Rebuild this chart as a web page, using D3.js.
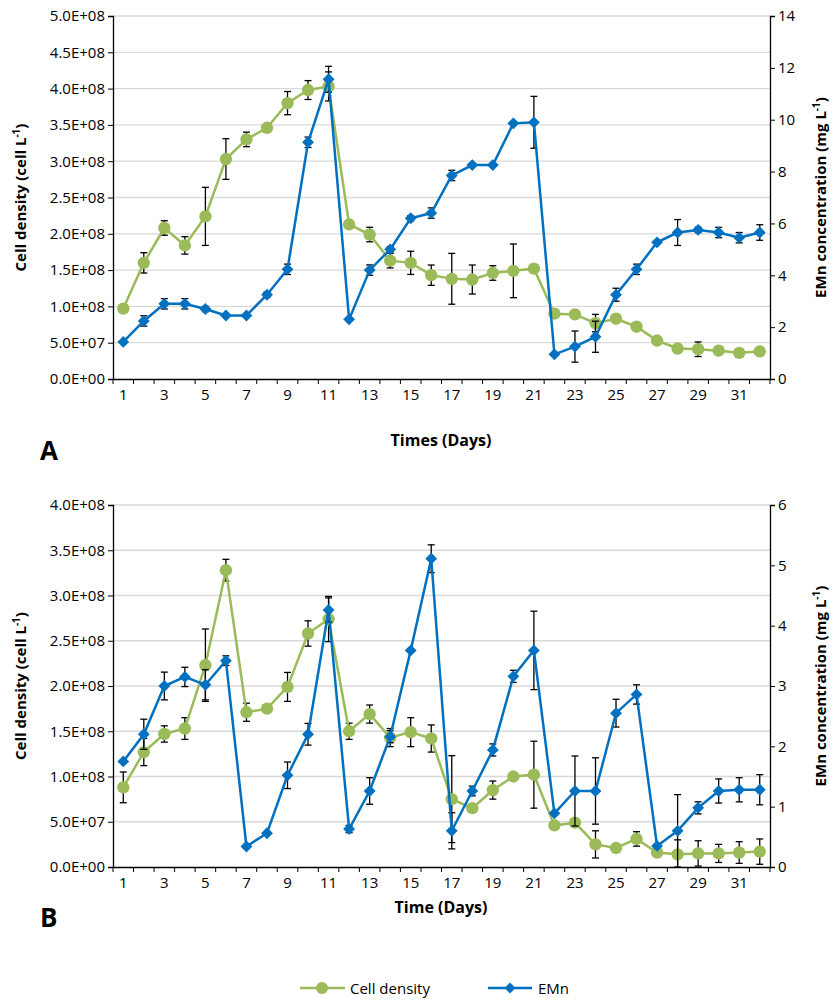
<!DOCTYPE html>
<html lang="en">
<head>
<meta charset="UTF-8">
<script src="https://d3js.org/d3.v7.min.js"></script>
<style>
  body { margin: 0; background: #fff; }
  text { font-family: "Open Sans", "DejaVu Sans", sans-serif; }
</style>
</head>
<body>
<div id="chart"></div>
<script>
// days 1..32
const days = d3.range(1, 33);
const oddTicks = days.filter(d => d % 2 === 1);

// Panel A
const cellA = [0.97,1.6,2.08,1.84,2.24,3.03,3.3,3.46,3.8,3.98,4.03,2.13,1.99,1.63,1.6,1.43,1.38,1.37,1.46,1.49,1.52,0.9,0.89,0.77,0.83,0.72,0.53,0.42,0.41,0.39,0.36,0.38];
const cellAErr = [0,0.14,0.1,0.12,0.4,0.28,0.1,0,0.16,0.13,0.2,0.05,0.1,0.1,0.16,0.14,0.35,0.2,0.1,0.37,0,0,0,0.12,0,0.05,0,0,0.1,0.04,0.05,0.05];
const emnA = [1.43,2.24,2.9,2.9,2.7,2.45,2.45,3.25,4.23,9.13,11.56,2.3,4.2,5.0,6.2,6.4,7.85,8.25,8.25,9.86,9.9,0.95,1.25,1.63,3.25,4.23,5.27,5.65,5.75,5.65,5.45,5.65];
const emnAErr = [0,0.2,0.2,0.2,0.1,0,0,0.1,0.2,0.2,0.5,0,0.2,0.1,0.1,0.2,0.2,0,0,0,1.0,0,0.6,0.6,0.25,0.2,0,0.5,0.1,0.2,0.2,0.3];
const leftTicksA = [0,0.5,1,1.5,2,2.5,3,3.5,4,4.5,5];
const rightTicksA = [0,2,4,6,8,10,12,14];

// Panel B
const cellB = [0.88,1.27,1.47,1.53,2.23,3.28,1.71,1.75,1.99,2.58,2.74,1.5,1.69,1.43,1.49,1.42,0.75,0.65,0.85,1.0,1.02,0.46,0.49,0.25,0.21,0.31,0.16,0.14,0.15,0.15,0.16,0.17];
const cellBErr = [0.17,0.15,0.09,0.12,0.4,0.12,0.1,0,0.16,0.14,0.25,0.09,0.1,0.1,0.16,0.15,0.48,0,0.1,0,0.37,0,0,0.15,0,0.08,0,0.16,0.14,0.1,0.12,0.14];
const emnB = [1.75,2.2,3.0,3.15,3.02,3.42,0.34,0.56,1.52,2.2,4.26,0.63,1.26,2.16,3.59,5.11,0.6,1.26,1.94,3.16,3.59,0.89,1.26,1.26,2.55,2.86,0.35,0.6,0.98,1.26,1.28,1.28];
const emnBErr = [0,0.25,0.23,0.16,0.25,0.08,0,0,0.22,0.18,0.2,0.06,0.22,0.1,0,0.23,0.3,0.08,0.1,0.1,0.65,0,0.58,0.55,0.23,0.16,0,0.6,0.1,0.2,0.2,0.25];
const leftTicksB = [0,0.5,1,1.5,2,2.5,3,3.5,4];
const rightTicksB = [0,1,2,3,4,5,6];

const green = "#9bbb59", blue = "#0070c0";
const fmt = v => v === 0 ? "0.0E+00" : (v < 1 ? (v*10).toFixed(1) + "E+07" : v.toFixed(1) + "E+08");

const svg = d3.select("#chart").append("svg").attr("width", 837).attr("height", 1000);

function panel(o) {
  const x = d3.scaleBand().domain(days).range([113, 770]);
  const yL = d3.scaleLinear().domain([0, o.leftMax]).range([o.bottom, o.top]);
  const yR = d3.scaleLinear().domain([0, o.rightMax]).range([o.bottom, o.top]);
  const g = svg.append("g");
  const cx = d => x(d) + x.bandwidth() / 2;

  g.selectAll(".grid").data(o.leftTicks.slice(1)).join("line")
    .attr("x1", 113).attr("x2", 770).attr("y1", yL).attr("y2", yL)
    .attr("stroke", "#d9d9d9").attr("stroke-width", 1.3);

  const ax = g.append("g").attr("transform", `translate(113,0)`)
    .call(d3.axisLeft(yL).tickValues(o.leftTicks).tickFormat(fmt).tickSize(5));
  const axR = g.append("g").attr("transform", `translate(770,0)`)
    .call(d3.axisRight(yR).tickValues(o.rightTicks).tickFormat(d3.format("d")).tickSize(5));
  const axB = g.append("g").attr("transform", `translate(0,${o.bottom})`)
    .call(d3.axisBottom(x).tickValues(oddTicks).tickSize(0).tickPadding(10));
  [ax, axR, axB].forEach(a => {
    a.select(".domain").attr("stroke", "#000").attr("stroke-width", 1.3);
    a.selectAll("text").attr("font-size", 15).attr("fill", "#000")
      .style("font-family", "'Open Sans', sans-serif");
  });
  // category boundary ticks
  g.selectAll(".xt").data(d3.range(0, 33)).join("line")
    .attr("x1", i => 113 + i * x.step()).attr("x2", i => 113 + i * x.step())
    .attr("y1", o.bottom).attr("y2", o.bottom + 5).attr("stroke", "#000");

  function series(vals, errs, y, color, shape) {
    const eg = g.append("g").attr("stroke", "#000").attr("stroke-width", 1.3);
    days.forEach((d, i) => {
      if (!errs[i]) return;
      const y1 = y(vals[i] - errs[i]), y2 = y(vals[i] + errs[i]), c = cx(d);
      eg.append("line").attr("x1", c).attr("x2", c).attr("y1", Math.min(y1, o.bottom)).attr("y2", y2);
      [y1, y2].forEach(yy => { if (yy <= o.bottom) eg.append("line").attr("x1", c - 3.5).attr("x2", c + 3.5).attr("y1", yy).attr("y2", yy); });
    });
    g.append("path").datum(vals)
      .attr("d", d3.line().x((v, i) => cx(days[i])).y(v => y(v)))
      .attr("fill", "none").attr("stroke", color).attr("stroke-width", 2.5);
    g.selectAll(null).data(vals).join("path")
      .attr("transform", (v, i) => `translate(${cx(days[i])},${y(v)})${shape === "diamond" ? " rotate(45)" : ""}`)
      .attr("d", d3.symbol().type(shape === "diamond" ? d3.symbolSquare : d3.symbolCircle).size(shape === "diamond" ? 70 : 120))
      .attr("fill", color);
  }
  series(o.cell, o.cellErr, yL, green, "circle");
  series(o.emn, o.emnErr, yR, blue, "diamond");

  const mid = (o.top + o.bottom) / 2;
  const lt = g.append("text").attr("transform", `translate(26,${mid}) rotate(-90)`)
    .attr("text-anchor", "middle").attr("font-size", 15).attr("font-weight", "bold");
  lt.append("tspan").text("Cell density (cell L");
  lt.append("tspan").text("-1").attr("font-size", 10).attr("dy", -6);
  lt.append("tspan").text(")").attr("dy", 6);
  const rt = g.append("text").attr("transform", `translate(826,${mid}) rotate(-90)`)
    .attr("text-anchor", "middle").attr("font-size", 15).attr("font-weight", "bold");
  rt.append("tspan").text("EMn concentration (mg L");
  rt.append("tspan").text("-1").attr("font-size", 10).attr("dy", -6);
  rt.append("tspan").text(")").attr("dy", 6);
  g.append("text").attr("x", 441).attr("y", o.bottom + o.titleOff).attr("text-anchor", "middle")
    .attr("font-size", 16).attr("font-weight", "bold").text(o.xTitle);
  g.append("text").attr("x", 40).attr("y", o.bottom + o.titleOff + 14)
    .attr("font-size", 26).attr("font-weight", "bold").text(o.label);
}

panel({ top: 16, bottom: 379, leftMax: 5, rightMax: 14, leftTicks: leftTicksA, rightTicks: rightTicksA, titleOff: 67,
  cell: cellA, cellErr: cellAErr, emn: emnA, emnErr: emnAErr, xTitle: "Times (Days)", label: "A" });
panel({ top: 505, bottom: 867, leftMax: 4, rightMax: 6, leftTicks: leftTicksB, rightTicks: rightTicksB, titleOff: 46,
  cell: cellB, cellErr: cellBErr, emn: emnB, emnErr: emnBErr, xTitle: "Time (Days)", label: "B" });

// legend
const lg = svg.append("g").attr("transform", "translate(0,988)");
lg.append("line").attr("x1", 300).attr("x2", 345).attr("stroke", green).attr("stroke-width", 2.5);
lg.append("circle").attr("cx", 322).attr("r", 6).attr("fill", green);
lg.append("text").attr("x", 350).attr("y", 6).attr("font-size", 15).text("Cell density");
lg.append("line").attr("x1", 488).attr("x2", 532).attr("stroke", blue).attr("stroke-width", 2.5);
lg.append("path").attr("transform", "translate(510,0) rotate(45)").attr("d", d3.symbol().type(d3.symbolSquare).size(60)).attr("fill", blue);
lg.append("text").attr("x", 538).attr("y", 6).attr("font-size", 15).text("EMn");
</script>
</body>
</html>
